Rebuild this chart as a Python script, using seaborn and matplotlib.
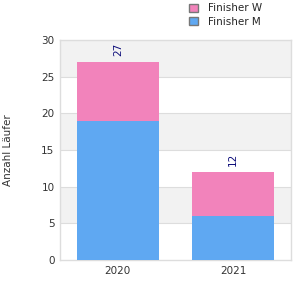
import numpy as np
import pandas as pd
import matplotlib
matplotlib.use("Agg")
import matplotlib.pyplot as plt
import seaborn as sns
from matplotlib.patches import Patch

# data
years = ["2020", "2021"]
finisher_m = [19, 6]
finisher_w = [8, 6]

df = pd.DataFrame({"Jahr": years, "M": finisher_m, "W": finisher_w})
df["Total"] = df["M"] + df["W"]

pink = "#F283BB"
blue = "#5FA8F2"

sns.set_style("white")
plt.rcParams["font.family"] = ["DejaVu Sans"]

fig = plt.figure(figsize=(3, 3), dpi=100)
ax = fig.add_axes([0.2, 0.133, 0.77, 0.734])

# alternating background bands
for i, lo in enumerate(range(0, 30, 5)):
    ax.axhspan(lo, lo + 5, color="#F2F2F2" if i % 2 else "white", zorder=0, lw=0)
for y in range(5, 30, 5):
    ax.axhline(y, color="#DDDDDD", lw=0.8, zorder=0.5)

sns.barplot(data=df, x="Jahr", y="Total", color=pink, width=0.71,
            saturation=1, linewidth=0, ax=ax, zorder=2)
sns.barplot(data=df, x="Jahr", y="M", color=blue, width=0.71,
            saturation=1, linewidth=0, ax=ax, zorder=3)

for i, t in enumerate(df["Total"]):
    ax.text(i, t + 0.8, str(t), rotation=90, ha="center", va="bottom",
            fontsize=7.5, color="#0d0d7a")

ax.set_ylim(0, 30)
ax.set_xlim(-0.5, 1.5)
ax.set_yticks(range(0, 31, 5))
ax.set_xlabel("")
ax.set_ylabel("Anzahl Läufer", fontsize=7.5, color="#333333", labelpad=20)
ax.tick_params(axis="both", labelsize=7.5, colors="#333333", length=0, pad=4)
for s in ax.spines.values():
    s.set_color("#DDDDDD")
    s.set_linewidth(1)

handles = [Patch(facecolor=pink, edgecolor="#777777", label="Finisher W"),
           Patch(facecolor=blue, edgecolor="#777777", label="Finisher M")]
fig.legend(handles=handles, loc="upper left", bbox_to_anchor=(0.6, 1.02),
           frameon=False, fontsize=7.5, handlelength=0.8, handleheight=0.8,
           handletextpad=1.0, labelspacing=0.35)

fig.savefig("out.png", dpi=100)
